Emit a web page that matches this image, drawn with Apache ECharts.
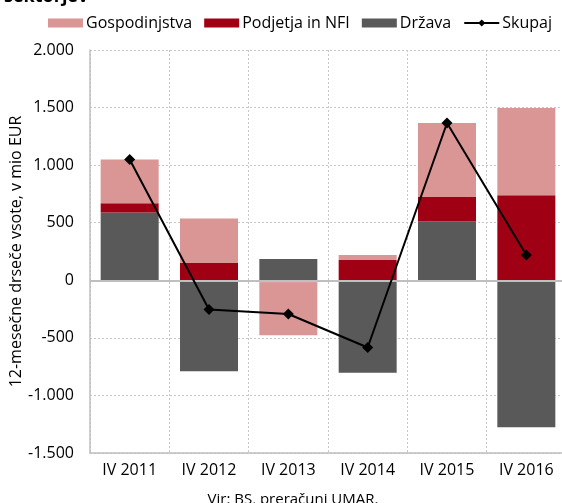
<!DOCTYPE html>
<html>
<head>
<meta charset="utf-8">
<script src="https://cdn.jsdelivr.net/npm/echarts@6/dist/echarts.min.js"></script>
<style>
  html,body{margin:0;padding:0;background:#fff;}
  #chart{width:562px;height:503px;}
</style>
</head>
<body>
<div id="chart"></div>
<script>
  // podatki (12-mesečne drseče vsote, mio EUR)
  const categories = ['IV 2011','IV 2012','IV 2013','IV 2014','IV 2015','IV 2016'];
  const drzava = [589, -790, 185, -803, 513, -1276];
  const podjetja = [80, 150, -16, 176, 210, 738];
  const gospodinjstva = [380, 387, -462, 43, 643, 758];
  const skupaj = [1049, -253, -293, -584, 1366, 220];

  const FONT = 'Open Sans';
  const fmt = v => {
    const s = Math.abs(v).toString().replace(/\B(?=(\d{3})+(?!\d))/g, '.');
    return (v < 0 ? '-' : '') + s;
  };

  const chart = echarts.init(document.getElementById('chart'), null, {renderer:'canvas'});
  chart.setOption({
    animation:false,
    textStyle:{fontFamily:FONT},
    title:[
      {text:'sektorjev', left:-1, top:-17, textStyle:{fontFamily:FONT, fontWeight:'bold', fontSize:18, color:'#000'}},
      {text:'Vir: BS, preračuni UMAR.', left:288, textAlign:'center', top:487, textStyle:{fontFamily:FONT, fontWeight:'normal', fontSize:15, color:'#000'}}
    ],
    legend:{
      left:43, top:10,
      itemWidth:35, itemHeight:9, itemGap:12,
      textStyle:{fontFamily:FONT, fontSize:16, color:'#000', padding:[0,0,0,-2]},
      data:[
        {name:'Gospodinjstva', icon:'rect'},
        {name:'Podjetja in NFI', icon:'rect'},
        {name:'Država', icon:'rect'},
        {name:'Skupaj'}
      ]
    },
    grid:{left:90, top:50, width:476, height:403, containLabel:false, outerBoundsMode:'none'},
    xAxis:{
      type:'category', data:categories,
      axisLine:{onZero:false, lineStyle:{color:'#bfbfbf', width:1.5}},
      axisTick:{show:false},
      axisLabel:{color:'#000', fontSize:16, fontFamily:FONT, margin:9},
      splitLine:{show:true, lineStyle:{color:'#c8c8c8', type:[2,2], width:1}}
    },
    yAxis:{
      type:'value', min:-1500, max:2000, interval:500,
      name:'12-mesečne drseče vsote, v mio EUR',
      nameLocation:'middle', nameGap:66, nameRotate:90, nameMoveOverlap:false,
      nameTextStyle:{color:'#000', fontSize:16, fontFamily:FONT},
      axisLine:{show:true, lineStyle:{color:'#bfbfbf', width:1.5}},
      axisTick:{show:false},
      axisLabel:{color:'#000', fontSize:16, fontFamily:FONT, margin:16, formatter:fmt},
      splitLine:{show:true, lineStyle:{color:'#c8c8c8', type:[2,2], width:1}}
    },
    series:[
      {name:'Država', type:'bar', stack:'s', barWidth:58, data:drzava,
        itemStyle:{color:'#595959'}},
      {name:'Podjetja in NFI', type:'bar', stack:'s', data:podjetja,
        itemStyle:{color:'#a00014'}},
      {name:'Gospodinjstva', type:'bar', stack:'s', data:gospodinjstva,
        itemStyle:{color:'#d99694'}},
      {name:'Skupaj', type:'line', data:skupaj, z:10,
        symbol:'diamond', symbolSize:11, showAllSymbol:true,
        lineStyle:{color:'#000', width:2}, itemStyle:{color:'#000'},
        markLine:{silent:true, symbol:'none', label:{show:false},
          lineStyle:{color:'#bfbfbf', width:2, type:'solid'}, data:[{yAxis:0}]}}
    ]
  });
</script>
</body>
</html>
